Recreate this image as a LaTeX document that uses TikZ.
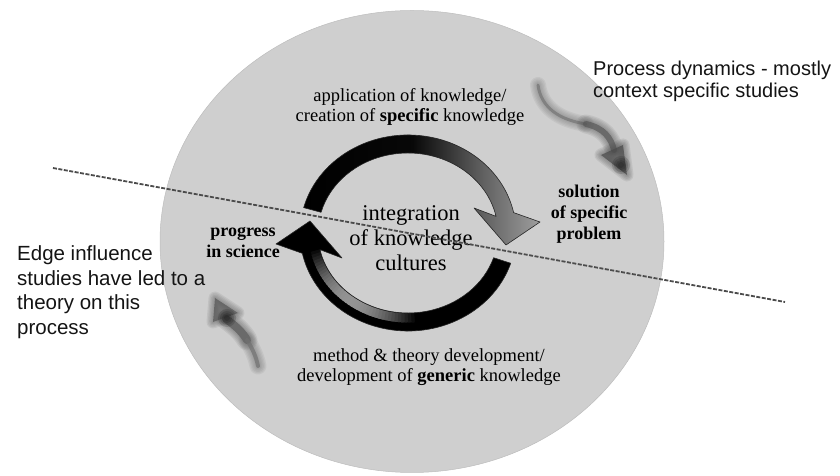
\documentclass[tikz,border=0pt]{standalone}
\usepackage{fontspec}
\setmainfont{Liberation Serif}
\newfontfamily\notefont{Liberation Sans}
\usetikzlibrary{calc,shapes.geometric}

% grey fade towards the head of the upper cycle arrow
\pgfdeclarehorizontalshading{toparrowshade}{100bp}{%
  rgb(0bp)=(0,0,0); rgb(25bp)=(0,0,0); rgb(48bp)=(0.03,0.03,0.03);
  rgb(62bp)=(0.36,0.36,0.36); rgb(75bp)=(0.62,0.62,0.62); rgb(100bp)=(0.62,0.62,0.62)}

% soft, slightly blurred stroke: wide faint passes under a core line
\newcommand{\hazystroke}[3]{%
  \foreach \hz in {5,4,3,2,1}{%
    \draw[line cap=round, line join=round, draw=#2, line width=#1+2.6*\hz, opacity=0.11] #3;}%
  \draw[line cap=round, line join=round, draw=#2, line width=#1, opacity=0.7] #3;}
% soft, slightly blurred filled shape
\newcommand{\hazyfill}[2]{%
  \foreach \hz in {5,4,3,2,1}{%
    \draw[line join=round, draw=#1, line width=2.6*\hz, opacity=0.11] #2;}%
  \fill[#1, opacity=0.75] #2;}
% soft dark spot
\newcommand{\hazyspot}[1]{%
  \foreach \hr in {9,7,5,3}{\fill[black, opacity=0.14] #1 circle[radius=\hr];}}

\begin{document}
\begin{tikzpicture}[x=1pt, y=1pt,
  disc/.style={ellipse, fill=black!19, draw=black!26, line width=0.5pt,
    minimum width=504pt, minimum height=462pt, inner sep=0pt},
  cyclelabel/.style={font=\fontsize{18.5}{20.5}\selectfont, text=black,
    align=center, inner sep=0pt},
  corelabel/.style={font=\fontsize{22.5}{25}\selectfont, text=black,
    align=center, inner sep=0pt},
  sidelabel/.style={font=\fontsize{18}{21}\selectfont\bfseries, text=black,
    align=center, inner sep=0pt},
  note/.style={font=\notefont, text=black!92, align=left, anchor=west, inner sep=0pt},
  divider/.style={draw=black!70, line width=1.8pt, dash pattern=on 4pt off 1.5pt},
  ringedge/.style={draw=black!85, line width=0.6pt, line join=round}
]
\useasboundingbox (0,0) rectangle (840,476);

% background disc
\node[disc] (field) at (412,234.5) {};

% centre of the knowledge cycle
\coordinate (hub) at (408,243);

% upper arrow: application of knowledge, ending in a head pointing down
\shadedraw[shading=toparrowshade, ringedge]
  ($(hub)+(165:108 and 98)$)
  arc[start angle=165, end angle=12, x radius=108, y radius=98]
  -- (540,254) -- (506,231) -- (474,268)
  -- ($(hub)+(12:90 and 80)$)
  arc[start angle=12, end angle=165, x radius=90, y radius=80] -- cycle;

% lower arrow: theory development, ending in a head pointing up
\def\lowerarrow{($(hub)+(-18:108 and 98)$)
  arc[start angle=-18, end angle=-168, x radius=108, y radius=98]
  -- (276,232) -- (310,255) -- (342,218)
  -- ($(hub)+(-168:90 and 80)$)
  arc[start angle=-168, end angle=-18, x radius=90, y radius=80] -- cycle}
\fill[black] \lowerarrow;
\begin{scope}
  \clip \lowerarrow;
  \foreach \a in {190,192,...,274}{%
    \pgfmathsetmacro{\shadeval}{100-58*sin((\a-190)/84*180)}%
    \draw[line width=9pt, draw=black!\shadeval]
      ($(hub)+(\a:95 and 85)$) arc[start angle=\a, end angle=\a+3.5, x radius=95, y radius=85];}
\end{scope}
\draw[ringedge] \lowerarrow;

% cycle labels
\node[cyclelabel] (apply) at (410,369)
  {application of knowledge/\\creation of \textbf{specific} knowledge};
\node[cyclelabel] (method) at (429,109)
  {method \& theory development/\\development of \textbf{generic} knowledge};
\node[corelabel] (core) at (411,238) {integration\\of knowledge\\cultures};
\node[sidelabel] (progress) at (243,234) {progress\\in science};
\node[sidelabel] (solution) at (589,262) {solution\\of specific\\problem};

% blurred pointer towards the upper-right note
\coordinate (pdA) at (538,391);
\coordinate (pdB) at (586,352);
\coordinate (pdC) at (614,326);
\hazystroke{3pt}{black!55}{(pdA) .. controls (541,368) and (560,356) .. (pdB)}
\hazystroke{6pt}{black!66}{(pdB) .. controls (604,348) and (611,338) .. (pdC)}
\hazyfill{black!70}{(601,321) -- (627,301) -- (623,331) -- cycle}
\hazyspot{(621,311)}

% blurred pointer towards the lower-left note
\coordinate (eiA) at (226,157);
\coordinate (eiB) at (247,136);
\coordinate (eiC) at (258,110);
\hazystroke{8pt}{black!66}{(eiA) .. controls (236,150) and (243,143) .. (eiB)}
\hazystroke{4pt}{black!56}{(eiB) .. controls (252,128) and (256,120) .. (eiC)}
\hazyfill{black!66}{(213,154) -- (215,178) -- (238,163) -- cycle}
\hazyspot{(227,158)}

% notes outside the disc
\node[note, font=\notefont\fontsize{20}{22}\selectfont] (dynamics) at (593,395)
  {Process dynamics - mostly\\context specific studies};
\node[note, font=\notefont\fontsize{20.5}{24.5}\selectfont] (edge) at (17,184)
  {Edge influence\\studies have led to a\\theory on this\\process};

% dividing line across the disc
\coordinate (cutW) at (53,308);
\coordinate (cutE) at (785,174);
\draw[divider] (cutW) -- (cutE);
\end{tikzpicture}
\end{document}
